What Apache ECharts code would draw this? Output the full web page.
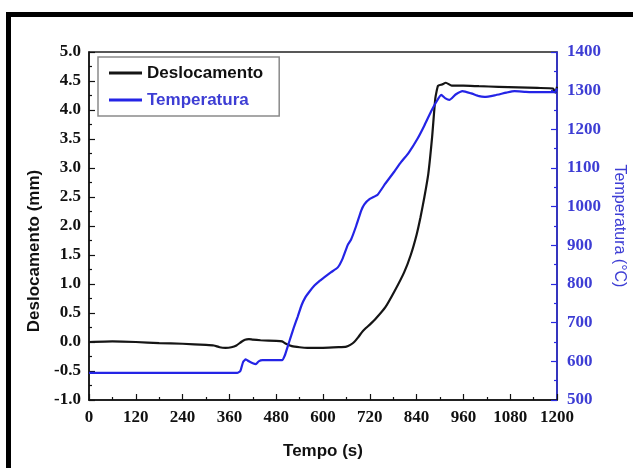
<!DOCTYPE html>
<html>
<head>
<meta charset="utf-8">
<script src="https://cdn.jsdelivr.net/npm/echarts@6/dist/echarts.min.js"></script>
<style>
html,body{margin:0;padding:0;background:#fff;}
#chart{width:633px;height:468px;}
</style>
</head>
<body>
<div id="chart"></div>
<script>
// Deslocamento (mm) vs time (s)
var deslTime = [0, 60, 120, 180, 240, 300, 320, 335, 350, 365, 378, 390, 400, 410, 420, 440, 480, 495, 505, 520, 540, 560, 600, 640, 660, 670, 680, 690, 700, 710, 720, 735, 760, 783, 808, 825, 840, 850, 860, 870, 880, 888, 895, 905, 915, 930, 960, 1000, 1050, 1100, 1150, 1190, 1196, 1200];
var deslValues = [0.00, 0.01, 0.00, -0.02, -0.03, -0.05, -0.06, -0.09, -0.10, -0.09, -0.06, 0.00, 0.04, 0.05, 0.04, 0.03, 0.02, 0.01, -0.03, -0.07, -0.09, -0.10, -0.10, -0.09, -0.08, -0.05, 0.00, 0.08, 0.17, 0.24, 0.30, 0.40, 0.60, 0.87, 1.20, 1.50, 1.85, 2.15, 2.50, 2.90, 3.55, 4.20, 4.42, 4.44, 4.47, 4.42, 4.42, 4.41, 4.40, 4.39, 4.38, 4.37, 4.30, 4.40];

// Temperatura (°C) vs time (s)
var tempTime = [0, 100, 200, 300, 380, 388, 395, 402, 410, 420, 428, 435, 445, 470, 495, 502, 510, 518, 526, 535, 545, 555, 565, 578, 590, 603, 620, 638, 650, 663, 672, 685, 698, 706, 720, 740, 760, 783, 800, 820, 843, 860, 877, 890, 903, 914, 924, 940, 958, 980, 1000, 1014, 1040, 1070, 1091, 1120, 1150, 1180, 1195, 1200];
var tempValues = [570, 570, 570, 570, 570, 575, 598, 605, 600, 595, 593, 600, 603, 603, 603, 615, 640, 665, 690, 715, 745, 766, 780, 796, 807, 817, 830, 843, 865, 900, 915, 950, 990, 1006, 1020, 1031, 1060, 1091, 1115, 1140, 1177, 1210, 1246, 1270, 1289, 1280, 1276, 1290, 1299, 1293, 1286, 1284, 1288, 1295, 1299, 1297, 1296, 1296, 1296, 1306];

var seriesNames = ['Deslocamento', 'Temperatura'];
var axisNames = {x: 'Tempo (s)', left: 'Deslocamento (mm)', right: 'Temperatura (°C)'};

function pairs(xs, ys) {
  var out = [];
  for (var i = 0; i < xs.length; i++) out.push([xs[i], ys[i]]);
  return out;
}

var BLUE_TXT = '#3d3dd4';
var LABEL_FONT = {fontFamily: 'Liberation Serif', fontSize: 17, fontWeight: 'bold'};
var chart = echarts.init(document.getElementById('chart'), null, {renderer: 'canvas'});
chart.setOption({
  animation: false,
  backgroundColor: '#fff',
  graphic: [{
    type: 'rect',
    shape: {x: 8.5, y: 14.5, width: 700, height: 500},
    style: {fill: 'none', stroke: '#000', lineWidth: 5},
    silent: true, z: 100
  }],
  grid: {left: 89, right: 76, top: 52, bottom: 68, containLabel: false, outerBoundsMode: 'none',
         show: true, borderColor: '#222', borderWidth: 1.5, backgroundColor: 'transparent'},
  legend: {
    left: 98, top: 57,
    orient: 'vertical',
    padding: [6, 16, 6, 11],
    itemGap: 7,
    itemWidth: 33, itemHeight: 3,
    icon: 'rect',
    borderColor: '#8a8a8a', borderWidth: 1.5,
    backgroundColor: '#fff',
    textStyle: {fontFamily: 'Liberation Sans, Arial', fontWeight: 'bold', fontSize: 17, lineHeight: 20},
    data: [
      {name: seriesNames[0], textStyle: {color: '#111'}},
      {name: seriesNames[1], textStyle: {color: BLUE_TXT}}
    ]
  },
  xAxis: {
    type: 'value', min: 0, max: 1200, interval: 120,
    name: axisNames.x, nameLocation: 'middle', nameGap: 43,
    nameTextStyle: {fontFamily: 'Liberation Sans, Arial', fontWeight: 'bold', fontSize: 17, color: '#111'},
    axisLine: {show: true, onZero: false, lineStyle: {color: '#111', width: 1.5}},
    axisTick: {show: true, inside: true, length: 6, lineStyle: {color: '#111', width: 1.2}},
    minorTick: {show: true, splitNumber: 2, length: 3, lineStyle: {color: '#111', width: 1.2}},
    axisLabel: Object.assign({color: '#111', margin: 9, formatter: function (v) { return String(v); }}, LABEL_FONT),
    splitLine: {show: false}
  },
  yAxis: [{
    type: 'value', min: -1, max: 5, interval: 0.5, position: 'left',
    name: axisNames.left, nameLocation: 'middle', nameGap: 46,
    nameTextStyle: {fontFamily: 'Liberation Sans, Arial', fontWeight: 'bold', fontSize: 17, color: '#111', padding: [0, 50, 0, 0]},
    axisLine: {show: true, onZero: false, lineStyle: {color: '#111', width: 1.5}},
    axisTick: {show: true, inside: true, length: 6, lineStyle: {color: '#111', width: 1.2}},
    minorTick: {show: true, splitNumber: 2, length: 3, lineStyle: {color: '#111', width: 1.2}},
    axisLabel: Object.assign({color: '#111', margin: 8, formatter: function (v) { return v.toFixed(1); }}, LABEL_FONT),
    splitLine: {show: false}
  }, {
    type: 'value', min: 500, max: 1400, interval: 100, position: 'right',
    name: axisNames.right, nameLocation: 'middle', nameGap: 53, nameRotate: -90,
    nameTextStyle: {fontFamily: 'Liberation Sans, Arial', fontSize: 16, color: BLUE_TXT},
    axisLine: {show: true, onZero: false, lineStyle: {color: '#2a2ae0', width: 1.5}},
    axisTick: {show: true, inside: true, length: 6, lineStyle: {color: '#2a2ae0', width: 1.2}},
    minorTick: {show: true, splitNumber: 2, length: 3, lineStyle: {color: '#2a2ae0', width: 1.2}},
    axisLabel: Object.assign({color: BLUE_TXT, margin: 10, formatter: function (v) { return String(v); }}, LABEL_FONT),
    splitLine: {show: false}
  }],
  series: [{
    name: seriesNames[0], type: 'line', yAxisIndex: 0,
    data: pairs(deslTime, deslValues),
    showSymbol: false, symbol: 'none', smooth: 0.15,
    color: '#151515',
    lineStyle: {color: '#151515', width: 2.2}
  }, {
    name: seriesNames[1], type: 'line', yAxisIndex: 1,
    data: pairs(tempTime, tempValues),
    showSymbol: false, symbol: 'none', smooth: 0.15,
    color: '#2424e6',
    lineStyle: {color: '#2424e6', width: 2.2}
  }]
});
</script>
</body>
</html>
